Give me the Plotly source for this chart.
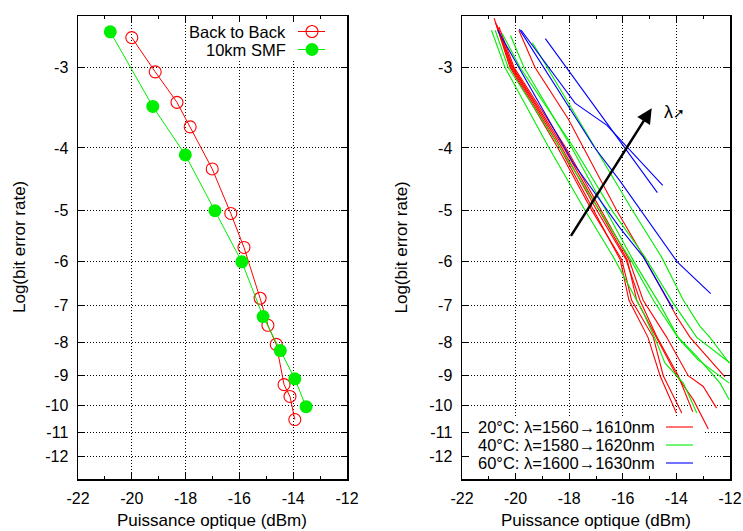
import numpy as np
import plotly.graph_objects as go

# ---------------- data ----------------
# Left panel: power (dBm) and log10(BER)
b2b_power = [-20.0, -19.13, -18.32, -17.83, -17.01, -16.32, -15.83, -15.23, -14.94, -14.63, -14.34, -14.12, -13.94]
b2b_logber = [-2.70, -3.05, -3.40, -3.71, -4.31, -5.05, -5.70, -6.83, -7.52, -8.05, -9.29, -9.69, -10.52]
smf_power = [-20.80, -19.22, -18.01, -16.91, -15.91, -15.12, -14.48, -13.94, -13.52]
smf_logber = [-2.645, -3.45, -4.10, -5.00, -6.00, -7.29, -8.23, -9.10, -10.05]

# Right panel: 20 C curves (red)
r1_p = [-20.80, -20.21, -18.42, -17.15, -16.04, -15.67, -14.86, -14.49, -13.80]
r1_b = [-2.52, -3.0, -4.0, -5.0, -5.95, -6.88, -7.85, -9.0, -10.28]
r2_p = [-20.70, -20.13, -18.27, -16.96, -15.88, -15.36, -14.74, -13.93, -13.39]
r2_b = [-2.58, -3.0, -4.0, -5.0, -5.95, -6.88, -7.82, -9.0, -10.23]
r3_p = [-20.62, -20.06, -18.12, -16.81, -15.77, -15.24, -14.36, -13.56, -13.00, -12.50]
r3_b = [-2.60, -3.0, -4.0, -5.0, -5.95, -6.88, -7.85, -9.0, -9.35, -10.10]
r4_p = [-20.68, -20.10, -18.20, -16.89, -15.84, -15.48, -13.99, -13.37, -12.81]
r4_b = [-2.60, -3.0, -4.0, -5.0, -5.95, -6.88, -9.0, -9.80, -10.88]
r5_p = [-19.88, -19.28, -18.03, -17.46, -16.22, -15.42, -13.99, -13.49, -12.19]
r5_b = [-2.63, -3.0, -3.61, -4.0, -5.0, -5.70, -7.29, -7.85, -9.04]
r6_p = [-20.75, -20.17, -18.34, -17.07, -16.10, -15.77, -15.06, -14.61, -14.00]
r6_b = [-2.56, -3.0, -4.0, -5.0, -5.95, -6.88, -7.85, -9.0, -10.28]

# 40 C curves (green)
g1_p = [-20.90, -20.40, -18.75, -17.40, -16.35, -15.23, -14.73, -14.43, -13.74, -13.24]
g1_b = [-2.63, -3.0, -4.0, -5.0, -5.90, -7.20, -8.00, -8.60, -9.24, -10.28]
g2_p = [-20.76, -20.28, -18.34, -16.85, -15.66, -14.86, -13.99, -13.24, -12.37, -12.03]
g2_b = [-2.63, -3.0, -4.0, -5.0, -6.0, -6.88, -7.80, -8.40, -9.24, -9.80]
g3_p = [-20.19, -19.69, -17.90, -16.63, -15.58, -14.60, -13.90, -13.20, -12.40, -12.03]
g3_b = [-2.68, -3.0, -4.0, -5.0, -6.0, -7.0, -7.90, -8.50, -9.00, -9.24]
g4_p = [-19.37, -18.83, -17.03, -15.63, -14.55, -13.74, -13.12, -12.75, -12.03]
g4_b = [-2.75, -3.0, -4.0, -5.0, -5.90, -6.88, -7.55, -7.85, -8.60]
g5_p = [-20.50, -19.84, -17.82, -16.40, -15.17, -14.12, -13.24, -12.00]
g5_b = [-2.66, -3.0, -4.0, -5.0, -5.90, -6.95, -7.85, -8.60]

# 60 C curves (blue)
b1_p = [-18.89, -17.04, -14.71]
b1_b = [-2.71, -3.46, -4.69]
b2_p = [-19.79, -17.78, -16.59, -14.51]
b2_b = [-2.63, -3.41, -3.69, -4.57]
b3_p = [-19.86, -17.04, -16.10, -13.97, -12.72]
b3_b = [-2.62, -4.0, -4.50, -6.0, -6.72]
b4_p = [-20.67, -17.85, -16.10, -15.23, -14.12]
b4_b = [-2.63, -4.22, -5.32, -5.90, -7.10]

x_ticks = [-22, -20, -18, -16, -14, -12]
x_minor = [-21, -19, -17, -15, -13]
y_ticks = [-3, -4, -5, -6, -7, -8, -9, -10, -11, -12]

legend_left = ["Back to Back", "10km SMF"]
legend_right = ["20°C: λ=1560→1610nm", "40°C: λ=1580→1620nm", "60°C: λ=1600→1630nm"]

# ---------------- helpers ----------------
def tr(v):
    return np.log10(-np.asarray(v, dtype=float))

Y_TOP, Y_BOT = np.log10(2.5), np.log10(13.0)
PT, PB = 16, 479          # plot top / bottom pixel
def yv(py):                # pixel row -> transformed y
    return Y_TOP + (py - PT) / (PB - PT) * (Y_BOT - Y_TOP)
def lx(px):                # pixel col -> left panel x
    return -22 + (px - 78) / 26.9
def rx(px):                # pixel col -> right panel x
    return -22 + (px - 462) / 26.8

RED, GREEN, BLUE = "#ff0000", "#00ee00", "#0000ff"
FONT = "Liberation Sans, Arial, Helvetica, sans-serif"

fig = go.Figure()

# left panel
fig.add_trace(go.Scatter(x=b2b_power, y=tr(b2b_logber), mode="lines+markers",
                         line=dict(color=RED, width=1),
                         marker=dict(symbol="circle-open", size=12, color=RED, line=dict(width=1.1)),
                         xaxis="x", yaxis="y", showlegend=False))
fig.add_trace(go.Scatter(x=smf_power, y=tr(smf_logber), mode="lines+markers",
                         line=dict(color=GREEN, width=1),
                         marker=dict(symbol="circle", size=13, color=GREEN),
                         xaxis="x", yaxis="y", showlegend=False))

# right panel
for p, b in [(r1_p, r1_b), (r2_p, r2_b), (r3_p, r3_b), (r4_p, r4_b), (r5_p, r5_b), (r6_p, r6_b)]:
    fig.add_trace(go.Scatter(x=p, y=tr(b), mode="lines", line=dict(color=RED, width=1.1),
                             xaxis="x2", yaxis="y2", showlegend=False))
for p, b in [(g1_p, g1_b), (g2_p, g2_b), (g3_p, g3_b), (g4_p, g4_b), (g5_p, g5_b)]:
    fig.add_trace(go.Scatter(x=p, y=tr(b), mode="lines", line=dict(color=GREEN, width=1.1),
                             xaxis="x2", yaxis="y2", showlegend=False))
for p, b in [(b1_p, b1_b), (b2_p, b2_b), (b3_p, b3_b), (b4_p, b4_b)]:
    fig.add_trace(go.Scatter(x=p, y=tr(b), mode="lines", line=dict(color=BLUE, width=1.1),
                             xaxis="x2", yaxis="y2", showlegend=False))

axis_common = dict(
    showline=True, linecolor="black", linewidth=1.5, mirror="ticks",
    ticks="inside", ticklen=6, tickwidth=1, tickcolor="black",
    showgrid=True, gridcolor="black", gridwidth=1, griddash="1px,2px",
    zeroline=False, tickfont=dict(family=FONT, size=16, color="black"),
    automargin=False,
)
xax = dict(axis_common, range=[-22, -12], tickmode="array", tickvals=x_ticks,
           ticktext=[str(v) for v in x_ticks], ticklabelstandoff=4,
           minor=dict(tickmode="array", tickvals=x_minor, ticks="inside", ticklen=3,
                      tickcolor="black", showgrid=False))
yax = dict(axis_common, range=[Y_BOT, Y_TOP], tickmode="array", tickvals=list(tr(y_ticks)),
           ticktext=[str(v) for v in y_ticks], ticklabelstandoff=5)

fig.update_layout(
    width=743, height=531,
    margin=dict(l=78, r=13, t=16, b=52),
    paper_bgcolor="white", plot_bgcolor="white",
    font=dict(family=FONT, size=17, color="black"),
    xaxis=dict(xax, domain=[0, 269 / 652], anchor="y"),
    yaxis=dict(yax, domain=[0, 1], anchor="x"),
    xaxis2=dict(xax, domain=[384 / 652, 1], anchor="y2"),
    yaxis2=dict(yax, domain=[0, 1], anchor="x2"),
    showlegend=False,
)

shapes = []
annots = []

# axis titles
for cx in [(211.5 - 78) / 652, (596 - 78) / 652]:
    annots.append(dict(text="Puissance optique (dBm)", xref="paper", yref="paper",
                       x=cx, y=(PB - 520) / (PB - PT), showarrow=False,
                       xanchor="center", yanchor="middle", font=dict(size=17)))
for cx in [(19.5 - 78) / 652, (401 - 78) / 652]:
    annots.append(dict(text="Log(bit error rate)", xref="paper", yref="paper",
                       x=cx, y=0.5, showarrow=False, textangle=-90,
                       xanchor="center", yanchor="middle", font=dict(size=17)))

# left legend (key box)
shapes.append(dict(type="rect", xref="x", yref="y", x0=lx(187), x1=lx(337), y0=yv(21), y1=yv(59),
                   fillcolor="white", line=dict(width=0), layer="between"))
leg_rows = [31.5, 49.5]
for txt, py, col, filled in zip(legend_left, leg_rows, [RED, GREEN], [False, True]):
    annots.append(dict(text=txt, xref="x", yref="y", x=lx(288), y=yv(py), showarrow=False,
                       xanchor="right", yanchor="middle", font=dict(size=16.5)))
    shapes.append(dict(type="line", xref="x", yref="y", x0=lx(298), x1=lx(325), y0=yv(py), y1=yv(py),
                       line=dict(color=col, width=1)))
    r = 6.5 if filled else 6
    shapes.append(dict(type="circle", xref="x", yref="y", xsizemode="pixel", ysizemode="pixel",
                       xanchor=lx(312), yanchor=yv(py), x0=-r, x1=r, y0=-r, y1=r,
                       fillcolor=col if filled else "rgba(0,0,0,0)",
                       line=dict(color=col, width=0 if filled else 1.1)))

# right legend
shapes.append(dict(type="rect", xref="x2", yref="y2", x0=rx(470), x1=rx(703), y0=yv(417), y1=yv(473),
                   fillcolor="white", line=dict(width=0), layer="between"))
for txt, py, col in zip(legend_right, [427, 445, 463], [RED, GREEN, BLUE]):
    annots.append(dict(text=txt, xref="x2", yref="y2", x=rx(657), y=yv(py), showarrow=False,
                       xanchor="right", yanchor="middle", font=dict(size=16.5)))
    shapes.append(dict(type="line", xref="x2", yref="y2", x0=rx(666), x1=rx(693), y0=yv(py), y1=yv(py),
                       line=dict(color=col, width=1.1)))

# wavelength arrow
annots.append(dict(x=rx(651.7), y=yv(108.3), ax=rx(570), ay=yv(237.3), xref="x2", yref="y2",
                   axref="x2", ayref="y2", text="", showarrow=True, arrowhead=2,
                   arrowsize=1.2, arrowwidth=2.5, arrowcolor="black", standoff=0, startstandoff=0))
annots.append(dict(text="λ<span style='font-family:DejaVu Sans;font-size:14px'>➚</span>",
                   xref="x2", yref="y2", x=rx(674), y=yv(111.7), showarrow=False,
                   xanchor="center", yanchor="middle", font=dict(size=18)))

fig.update_layout(shapes=shapes, annotations=annots)
fig.write_html("out.html", config={"displayModeBar": False, "staticPlot": True},
               post_script="document.body.style.margin='0px';document.body.style.overflow='hidden';")
